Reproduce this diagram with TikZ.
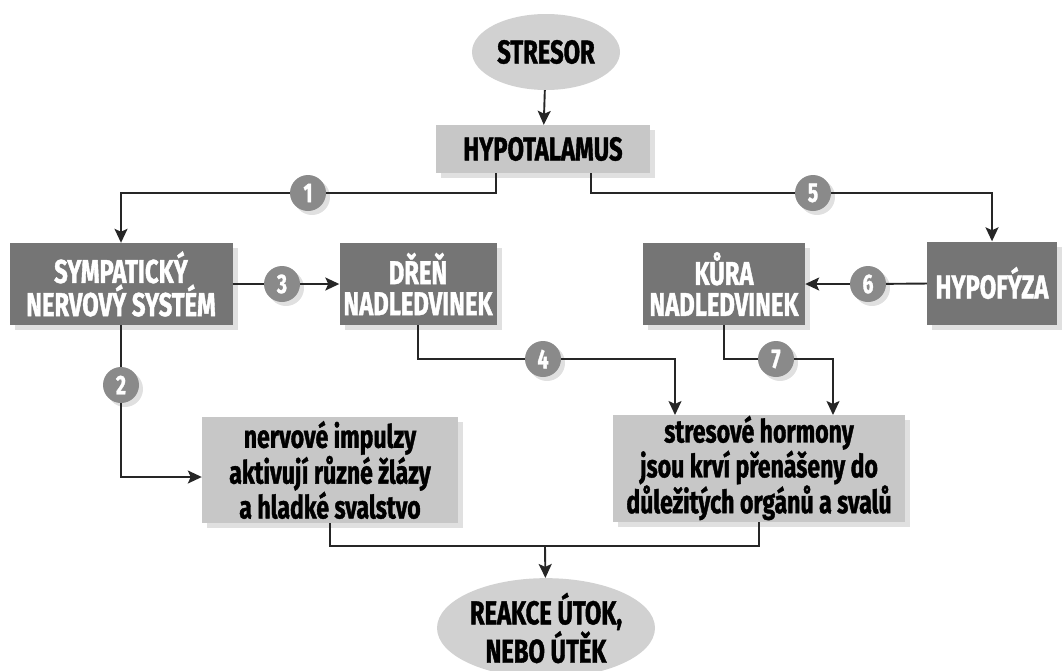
\documentclass[tikz,border=0pt]{standalone}
\usepackage{fontspec}
\newfontfamily\diafont{Fira Sans}[FakeStretch=0.72, BoldFeatures={FakeBold=1.2}]
\usepackage{tikz}
\usetikzlibrary{shapes.geometric, arrows.meta, shadows, calc}

\tikzset{
  softshadow/.style={general shadow={fill=black!12, shadow xshift=5pt, shadow yshift=-5pt}},
  darkbox/.style={rectangle, fill=black!54, text=white, align=center, inner sep=0pt,
    softshadow, font=\diafont\bfseries\fontsize{33}{31}\selectfont},
  lightbox/.style={rectangle, fill=black!22, text=black, align=center, inner sep=0pt,
    softshadow, font=\diafont\bfseries\fontsize{32}{31}\selectfont},
  oval/.style={ellipse, fill=black!18, align=center, inner sep=0pt,
    font=\diafont\bfseries\fontsize{33}{27}\selectfont},
  numdot/.style={circle, fill=black!46, text=white, minimum size=36pt, inner sep=0pt,
    general shadow={fill=black!12, shadow xshift=4pt, shadow yshift=-4pt},
    font=\diafont\bfseries\fontsize{27}{27}\selectfont},
  link/.style={line width=1.9pt, black!85},
  arr/.style={link, -{Stealth[length=14pt, width=13pt, inset=3pt]}}
}

\begin{document}
\begin{tikzpicture}[x=1pt, y=-1pt]
  \useasboundingbox (0,0) rectangle (1062,670);

  % ovals
  \node[oval, minimum width=148pt, minimum height=76pt] (stresor) at (546,52) {STRESOR};
  \node[oval, minimum width=218pt, minimum height=82pt] (reakce) at (546,628) {REAKCE ÚTOK,\\NEBO ÚTĚK};

  % boxes
  \node[lightbox, minimum width=214pt, minimum height=48pt] (hypo) at (543,149)
    {\fontsize{33}{26}\selectfont HYPOTALAMUS};
  \node[darkbox, minimum width=223pt, minimum height=82pt] (symp) at (121,284) {SYMPATICKÝ\\NERVOVÝ SYSTÉM};
  \node[darkbox, minimum width=157pt, minimum height=82pt] (dren) at (418,284) {DŘEŇ\\NADLEDVINEK};
  \node[darkbox, minimum width=162pt, minimum height=82pt] (kura) at (724,284) {KŮRA\\NADLEDVINEK};
  \node[darkbox, minimum width=130pt, minimum height=83pt] (hypof) at (992,283) {HYPOFÝZA};
  \node[lightbox, minimum width=256pt, minimum height=106pt] (nerv) at (330,470)
    {nervové impulzy\\aktivují různé žlázy\\a hladké svalstvo};
  \node[lightbox, minimum width=292pt, minimum height=107pt] (stres) at (759,468)
    {stresové hormony\\jsou krví přenášeny do\\důležitých orgánů a svalů};

  % numbered dots
  \node[numdot] (n1) at (308,193) {1};
  \node[numdot] (n5) at (813,193) {5};
  \node[numdot] (n3) at (282,284) {3};
  \node[numdot] (n6) at (868,284) {6};
  \node[numdot] (n2) at (121,385) {2};
  \node[numdot] (n4) at (543,359) {4};
  \node[numdot] (n7) at (776,359) {7};

  \coordinate (t4) at (675,415);
  \coordinate (t7) at (833,415);
  \coordinate (join) at (545,546);

  % connectors
  \draw[arr] (stresor) -- (hypo);
  \draw[link] ($(hypo.south)+(-47,0)$) |- (n1);
  \draw[arr] (n1) -| (symp.north);
  \draw[link] ($(hypo.south)+(48,0)$) |- (n5);
  \draw[arr] (n5) -| (hypof.north);
  \draw[link] (symp) -- (n3);
  \draw[arr] (n3) -- (dren);
  \draw[link] (hypof) -- (n6);
  \draw[arr] (n6) -- (kura);
  \draw[link] (symp) -- (n2);
  \draw[arr] (n2) |- ([yshift=-7pt]nerv.west);
  \draw[link] (dren.south) |- (n4);
  \draw[arr] (n4) -| (t4);
  \draw[link] (kura.south) |- (n7);
  \draw[arr] (n7) -| (t7);
  \draw[link] (nerv.south) |- (join) -| (stres.south);
  \draw[arr] (join) -- (reakce);
\end{tikzpicture}
\end{document}
